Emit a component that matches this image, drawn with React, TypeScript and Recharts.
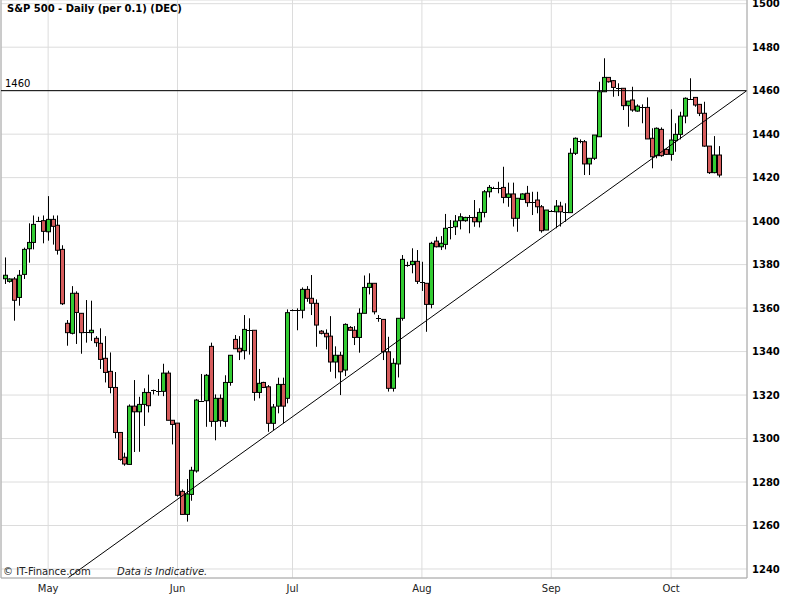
import React from 'react';
import { ComposedChart, Bar, XAxis, YAxis, CartesianGrid, ReferenceLine } from 'recharts';

// S&P 500 Dec future, daily candles (one entry per session)
const opens = [
  1373.5, 1372.3, 1373.4, 1364.9, 1375.5, 1387.3, 1390.2, 1400.2, 1400.2, 1395.1,
  1400.8, 1398.1, 1387.0, 1353.0, 1348.4, 1366.8, 1357.6, 1348.8, 1348.7, 1346.1,
  1343.8, 1336.9, 1330.9, 1323.5, 1302.8, 1291.4, 1288.1, 1314.9, 1312.3, 1315.7,
  1321.2, 1322.1, 1321.8, 1321.7, 1330.1, 1308.4, 1307.1, 1275.7, 1265.1, 1274.3,
  1285.1, 1317.4, 1317.4, 1342.4, 1307.9, 1318.5, 1307.9, 1325.8, 1345.6, 1341.5,
  1340.4, 1349.8, 1349.8, 1321.2, 1325.8, 1323.8, 1307.0, 1314.9, 1324.9, 1318.5,
  1359.0, 1359.0, 1359.0, 1368.6, 1364.5, 1362.2, 1349.4, 1348.4, 1347.1, 1335.2,
  1338.3, 1331.5, 1351.1, 1349.8, 1346.5, 1357.6, 1369.5, 1371.4, 1355.6, 1354.8,
  1339.9, 1323.1, 1334.3, 1355.3, 1379.8, 1380.0, 1381.5, 1372.2, 1371.4, 1361.7,
  1390.8, 1388.2, 1389.3, 1397.4, 1397.4, 1400.2, 1400.2, 1401.7, 1401.7, 1399.7,
  1404.0, 1413.5, 1415.2, 1415.4, 1415.5, 1410.9, 1412.5, 1401.3, 1410.0, 1412.8,
  1408.9, 1409.7, 1406.6, 1395.9, 1404.8, 1404.3, 1406.9, 1404.3, 1403.9, 1431.2,
  1436.7, 1436.5, 1426.3, 1428.9, 1438.8, 1459.5, 1466.1, 1464.6, 1461.1, 1461.1,
  1453.1, 1455.7, 1450.6, 1452.6, 1452.3, 1438.1, 1430.1, 1442.2, 1433.0, 1430.7,
  1437.0, 1439.9, 1448.3, 1456.3, 1456.9, 1453.7, 1449.6, 1434.5, 1422.3, 1430.4,
];

const highs = [
  1383.3, 1373.7, 1374.3, 1377.5, 1387.8, 1399.0, 1402.6, 1402.0, 1402.6, 1411.5,
  1402.6, 1402.6, 1388.9, 1354.5, 1370.1, 1367.7, 1357.6, 1363.7, 1363.4, 1347.1,
  1350.7, 1347.1, 1339.6, 1330.6, 1302.8, 1293.5, 1315.7, 1326.9, 1319.2, 1323.1,
  1329.4, 1322.5, 1327.4, 1334.4, 1331.2, 1308.4, 1307.1, 1276.6, 1281.4, 1287.0,
  1318.2, 1329.7, 1329.7, 1344.1, 1320.3, 1320.3, 1329.1, 1338.3, 1347.6, 1347.1,
  1356.8, 1355.3, 1349.8, 1332.0, 1326.1, 1324.6, 1315.9, 1328.0, 1328.0, 1359.4,
  1359.4, 1359.9, 1369.5, 1370.1, 1375.2, 1364.0, 1349.9, 1350.2, 1356.3, 1342.4,
  1339.9, 1353.0, 1351.7, 1351.7, 1359.9, 1375.0, 1376.0, 1371.4, 1356.8, 1354.8,
  1346.8, 1336.9, 1355.3, 1384.4, 1381.3, 1387.5, 1386.7, 1381.3, 1371.4, 1390.5,
  1392.8, 1393.1, 1403.3, 1400.5, 1402.8, 1403.6, 1402.0, 1402.8, 1409.7, 1405.9,
  1414.3, 1416.6, 1415.8, 1418.1, 1425.0, 1417.7, 1417.7, 1410.5, 1412.8, 1416.2,
  1413.5, 1413.5, 1407.4, 1405.1, 1405.1, 1409.7, 1408.9, 1408.2, 1433.5, 1438.5,
  1437.6, 1437.3, 1428.9, 1439.6, 1464.1, 1474.9, 1466.1, 1464.9, 1463.4, 1461.1,
  1455.2, 1461.8, 1453.7, 1453.7, 1456.9, 1442.7, 1443.1, 1443.1, 1433.5, 1451.4,
  1445.0, 1450.3, 1456.9, 1465.7, 1456.9, 1453.7, 1454.9, 1434.5, 1439.1, 1434.5,
];

const lows = [
  1371.1, 1371.7, 1354.2, 1361.1, 1373.4, 1380.9, 1387.0, 1399.6, 1389.8, 1391.0,
  1389.2, 1384.6, 1361.4, 1342.7, 1347.9, 1343.5, 1339.0, 1344.1, 1344.9, 1342.2,
  1332.0, 1325.8, 1320.8, 1300.1, 1289.8, 1287.5, 1288.1, 1293.8, 1293.9, 1305.8,
  1312.0, 1320.3, 1319.7, 1319.5, 1308.4, 1297.3, 1273.3, 1265.1, 1261.8, 1271.4,
  1284.3, 1317.4, 1305.4, 1305.4, 1299.2, 1305.4, 1305.4, 1324.3, 1341.3, 1336.1,
  1336.4, 1338.6, 1317.4, 1318.5, 1323.2, 1303.1, 1303.9, 1311.6, 1307.0, 1316.2,
  1358.6, 1349.8, 1355.3, 1362.9, 1356.8, 1342.2, 1347.9, 1341.0, 1330.7, 1327.7,
  1320.0, 1328.7, 1349.6, 1343.0, 1339.5, 1357.6, 1366.3, 1357.1, 1353.7, 1336.1,
  1321.6, 1321.6, 1328.1, 1354.2, 1379.0, 1376.0, 1371.1, 1367.9, 1349.1, 1359.9,
  1387.9, 1386.7, 1387.0, 1391.6, 1393.6, 1396.2, 1399.7, 1394.4, 1397.4, 1397.1,
  1401.7, 1410.9, 1414.9, 1412.8, 1408.2, 1406.6, 1397.5, 1395.1, 1409.7, 1406.6,
  1402.8, 1403.6, 1394.7, 1395.9, 1404.5, 1396.7, 1397.5, 1399.7, 1403.9, 1430.4,
  1435.8, 1421.2, 1421.2, 1428.1, 1438.8, 1459.5, 1463.7, 1457.2, 1457.5, 1451.1,
  1443.4, 1450.3, 1450.3, 1445.0, 1437.8, 1424.3, 1428.9, 1429.6, 1430.4, 1427.8,
  1431.9, 1437.6, 1445.0, 1455.7, 1452.6, 1448.3, 1434.2, 1421.7, 1422.0, 1420.1,
];

const closes = [
  1375.1, 1373.4, 1363.6, 1375.1, 1387.0, 1390.2, 1398.5, 1400.2, 1395.3, 1400.8,
  1397.6, 1386.6, 1362.0, 1348.7, 1366.8, 1358.0, 1348.7, 1348.8, 1349.8, 1344.1,
  1336.4, 1330.4, 1323.5, 1302.8, 1290.4, 1288.3, 1314.9, 1312.3, 1315.7, 1321.2,
  1315.1, 1321.7, 1321.8, 1330.1, 1308.4, 1306.5, 1273.9, 1265.1, 1274.5, 1285.4,
  1317.7, 1317.4, 1329.1, 1307.9, 1318.5, 1308.2, 1325.8, 1338.3, 1341.3, 1339.9,
  1350.2, 1349.8, 1321.2, 1325.4, 1323.5, 1307.0, 1314.5, 1324.9, 1314.9, 1357.9,
  1359.0, 1359.0, 1368.6, 1364.5, 1362.2, 1352.2, 1348.4, 1346.8, 1335.2, 1338.3,
  1330.7, 1352.5, 1349.8, 1346.5, 1357.6, 1369.5, 1371.4, 1358.3, 1355.6, 1339.9,
  1323.1, 1334.6, 1355.3, 1382.4, 1379.8, 1381.5, 1372.3, 1372.2, 1361.7, 1389.8,
  1388.2, 1389.8, 1396.7, 1397.4, 1400.0, 1402.0, 1401.7, 1401.7, 1399.7, 1404.0,
  1413.5, 1415.5, 1415.2, 1415.4, 1410.9, 1412.5, 1401.3, 1410.5, 1412.5, 1408.5,
  1408.9, 1406.6, 1395.6, 1405.1, 1404.8, 1406.9, 1404.3, 1404.3, 1431.2, 1438.1,
  1436.7, 1426.3, 1428.9, 1439.6, 1459.5, 1466.1, 1464.1, 1461.5, 1461.1, 1453.1,
  1455.2, 1451.1, 1452.9, 1452.6, 1437.8, 1429.6, 1442.7, 1430.1, 1430.7, 1437.3,
  1439.9, 1448.3, 1456.5, 1456.3, 1453.4, 1449.6, 1434.5, 1422.3, 1430.4, 1421.2,
];

// first session of each month (index into the arrays above)
const monthStarts = [9, 36, 60, 87, 114, 139];
const monthLabels = ['May', 'Jun', 'Jul', 'Aug', 'Sep', 'Oct'];

const priceTicks = [1240, 1260, 1280, 1300, 1320, 1340, 1360, 1380, 1400, 1420, 1440, 1460, 1480, 1500];

const resistance = 1460;
// support trend line, from the bottom left corner to the right edge
const trendLine = [
  { x: 13.2, y: 1236.0 },
  { x: 154.8, y: 1460.0 },
];

const X_MIN = -0.834;
const X_MAX = 154.84;

const data = opens.map((open, i) => ({
  i,
  open,
  high: highs[i],
  low: lows[i],
  close: closes[i],
  range: [lows[i], highs[i]],
}));

const FONT = '"DejaVu Sans", Verdana, sans-serif';

const Candle = (props: any) => {
  const { x, y, width, height, payload } = props;
  if (x == null || y == null || !payload) return null;
  const { open, close, high, low } = payload;
  const top = Math.min(y, y + height);
  const h = Math.abs(height);
  const ratio = high - low === 0 ? 0 : h / (high - low);
  const yOf = (v: number) => top + (high - v) * ratio;
  const c = Math.round(x + width / 2);
  const bTop = yOf(Math.max(open, close));
  const bBot = yOf(Math.min(open, close));
  const up = close > open;
  return (
    <g>
      <line x1={c + 0.5} x2={c + 0.5} y1={top} y2={top + h} stroke="#000" strokeWidth={1} />
      {bBot - bTop < 1 ? (
        <line x1={c - 2} x2={c + 3} y1={Math.round(bTop) + 0.5} y2={Math.round(bTop) + 0.5} stroke="#000" strokeWidth={1} />
      ) : (
        <rect
          x={c - 1.5}
          y={bTop}
          width={4}
          height={bBot - bTop}
          fill={up ? '#33cc33' : '#d65c5c'}
          stroke="#000"
          strokeWidth={1}
        />
      )}
    </g>
  );
};

export default function App() {
  return (
    <div style={{ position: 'absolute', left: 0, top: 0, width: 800, height: 600, background: '#fff', fontFamily: FONT }}>
      <ComposedChart width={800} height={600} data={data} margin={{ top: 0, right: 0, bottom: 0, left: 1 }}>
        <CartesianGrid stroke="#dcdcdc" />
        <XAxis
          type="number"
          dataKey="i"
          domain={[X_MIN, X_MAX]}
          allowDataOverflow
          ticks={monthStarts}
          interval={0}
          tickFormatter={(v: number) => monthLabels[monthStarts.indexOf(v)]}
          tickLine={false}
          tickSize={0}
          tickMargin={7}
          height={22}
          axisLine={{ stroke: '#a8a8a8' }}
          tick={{ fontSize: 10, fill: '#222', fontFamily: FONT }}
        />
        <YAxis
          orientation="right"
          type="number"
          domain={[1235.86, 1501.7]}
          allowDataOverflow
          ticks={priceTicks}
          interval={0}
          width={53}
          tickLine={false}
          tickSize={0}
          tickMargin={5}
          axisLine={{ stroke: '#a8a8a8' }}
          tick={{ fontSize: 10, fontWeight: 'bold', fill: '#000', fontFamily: FONT }}
        />
        <ReferenceLine x={X_MIN} stroke="#a8a8a8" />
        <ReferenceLine y={resistance} stroke="#000" />
        <ReferenceLine segment={trendLine} stroke="#000" ifOverflow="visible" />
        <Bar dataKey="range" barSize={4} shape={<Candle />} isAnimationActive={false} />
      </ComposedChart>
      <div style={{ position: 'absolute', left: 7, top: 4, fontSize: 10, lineHeight: '10px', fontWeight: 'bold', color: '#000', whiteSpace: 'nowrap' }}>
        S&amp;P 500 - Daily (per 0.1) (DEC)
      </div>
      <div style={{ position: 'absolute', left: 5, top: 79, fontSize: 10, lineHeight: '10px', color: '#000' }}>
        {resistance}
      </div>
      <div style={{ position: 'absolute', left: 3, top: 567, fontSize: 10, lineHeight: '10px', color: '#222', whiteSpace: 'nowrap' }}>
        © IT-Finance.com
      </div>
      <div style={{ position: 'absolute', left: 117, top: 567, fontSize: 10, lineHeight: '10px', color: '#222', fontStyle: 'italic', whiteSpace: 'nowrap' }}>
        Data is Indicative.
      </div>
    </div>
  );
}
